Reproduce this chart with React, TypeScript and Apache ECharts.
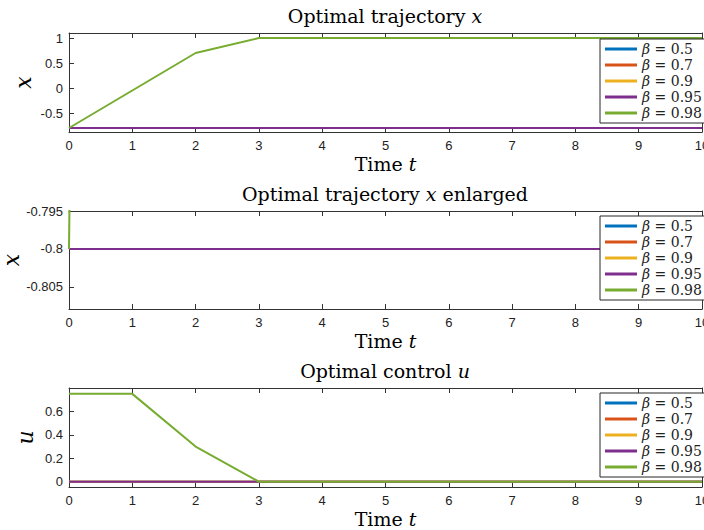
import React, { useEffect, useRef } from "react";
import * as echarts from "echarts";

const tValues = [0, 1, 2, 3, 4, 5, 6, 7, 8, 9, 10];
const betaLabels = ["0.5", "0.7", "0.9", "0.95", "0.98"];
const lineColors = ["#0072BD", "#D95319", "#EDB120", "#7E2F8E", "#77AC30"];

// state trajectory x for each beta
const xBeta05 = [-0.8, -0.8, -0.8, -0.8, -0.8, -0.8, -0.8, -0.8, -0.8, -0.8, -0.8];
const xBeta07 = [-0.8, -0.8, -0.8, -0.8, -0.8, -0.8, -0.8, -0.8, -0.8, -0.8, -0.8];
const xBeta09 = [-0.8, -0.8, -0.8, -0.8, -0.8, -0.8, -0.8, -0.8, -0.8, -0.8, -0.8];
const xBeta095 = [-0.8, -0.8, -0.8, -0.8, -0.8, -0.8, -0.8, -0.8, -0.8, -0.8, -0.8];
const xBeta098 = [-0.8, -0.05, 0.7, 1, 1, 1, 1, 1, 1, 1, 1];

// control u for each beta
const uBeta05 = [0, 0, 0, 0, 0, 0, 0, 0, 0, 0, 0];
const uBeta07 = [0, 0, 0, 0, 0, 0, 0, 0, 0, 0, 0];
const uBeta09 = [0, 0, 0, 0, 0, 0, 0, 0, 0, 0, 0];
const uBeta095 = [0, 0, 0, 0, 0, 0, 0, 0, 0, 0, 0];
const uBeta098 = [0.75, 0.75, 0.3, 0, 0, 0, 0, 0, 0, 0, 0];

const xSeries = [xBeta05, xBeta07, xBeta09, xBeta095, xBeta098];
const uSeries = [uBeta05, uBeta07, uBeta09, uBeta095, uBeta098];

const yTicks1 = [-0.5, 0, 0.5, 1];
const yTicks2 = [-0.805, -0.8, -0.795];
const yTicks3 = [0, 0.2, 0.4, 0.6];

const panelTitles = ["Optimal trajectory ", "Optimal trajectory ", "Optimal control "];
const panelTitleVars = ["x", "x", "u"];
const panelTitleTails = ["", " enlarged", ""];
const yNames = ["x", "x", "u"];

const SERIF = "DejaVu Serif";
const SANS = "Liberation Sans";
const AXIS_COLOR = "#333333";

export default function App() {
  const ref = useRef<HTMLDivElement>(null);
  useEffect(() => {
    if (!ref.current) return;
    const chart = echarts.init(ref.current, null, { renderer: "svg" });

    const grids = [
      { left: 69, right: 2, top: 33, height: 99, outerBoundsMode: "none", containLabel: false },
      { left: 69, right: 2, top: 211, height: 98, outerBoundsMode: "none", containLabel: false },
      { left: 69, right: 2, top: 388, height: 99, outerBoundsMode: "none", containLabel: false },
    ];
    const yRanges = [
      { min: -0.88, max: 1.1, ticks: yTicks1, gap: 35 },
      { min: -0.8079, max: -0.795, ticks: yTicks2, gap: 47 },
      { min: -0.045, max: 0.8, ticks: yTicks3, gap: 33 },
    ];
    const titleTops = [6, 184, 361];
    const legendTops = [39, 216, 393];

    const xAxes: any[] = [];
    const yAxes: any[] = [];
    const series: any[] = [];
    grids.forEach((g, i) => {
      xAxes.push({
        type: "value",
        gridIndex: i,
        position: "bottom",
        min: 0,
        max: 10,
        interval: 1,
        axisLine: { show: true, onZero: false, lineStyle: { color: AXIS_COLOR, width: 1 } },
        axisTick: { show: true, inside: true, length: 5, lineStyle: { color: AXIS_COLOR } },
        axisLabel: { show: true, color: "#222", fontFamily: SANS, fontSize: 13, margin: 7 },
        splitLine: { show: false },
        name: "{n|Time }{i|t}",
        nameLocation: "middle",
        nameGap: 22,
        nameMoveOverlap: false,
        nameTextStyle: {
          rich: {
            n: { fontFamily: SERIF, fontSize: 19, color: "#000" },
            i: { fontFamily: SERIF, fontStyle: "italic", fontSize: 19, color: "#000" },
          },
        },
      });
      xAxes.push({
        type: "value",
        gridIndex: i,
        position: "top",
        min: 0,
        max: 10,
        interval: 1,
        axisLine: { show: true, onZero: false, lineStyle: { color: AXIS_COLOR, width: 1 } },
        axisTick: { show: true, inside: true, length: 5, lineStyle: { color: AXIS_COLOR } },
        axisLabel: { show: false },
        splitLine: { show: false },
      });
      const r = yRanges[i];
      yAxes.push({
        type: "value",
        gridIndex: i,
        position: "left",
        min: r.min,
        max: r.max,
        axisLine: { show: true, onZero: false, lineStyle: { color: AXIS_COLOR, width: 1 } },
        axisTick: { show: true, inside: true, length: 5, customValues: r.ticks, lineStyle: { color: AXIS_COLOR } },
        axisLabel: { show: true, customValues: r.ticks, color: "#222", fontFamily: SANS, fontSize: 13, margin: 6 },
        splitLine: { show: false },
        name: yNames[i],
        nameLocation: "middle",
        nameRotate: 90,
        nameGap: r.gap,
        nameMoveOverlap: false,
        nameTextStyle: { fontFamily: SERIF, fontStyle: "italic", fontSize: 22, color: "#000" },
      });
      yAxes.push({
        type: "value",
        gridIndex: i,
        position: "right",
        min: r.min,
        max: r.max,
        axisLine: { show: true, onZero: false, lineStyle: { color: AXIS_COLOR, width: 1 } },
        axisTick: { show: true, inside: true, length: 5, customValues: r.ticks, lineStyle: { color: AXIS_COLOR } },
        axisLabel: { show: false },
        splitLine: { show: false },
      });
      const src = i < 2 ? xSeries : uSeries;
      src.forEach((vals, k) => {
        series.push({
          type: "line",
          name: betaLabels[k],
          xAxisIndex: 2 * i,
          yAxisIndex: 2 * i,
          data: tValues.map((t, j) => [t, vals[j]]),
          showSymbol: false,
          symbol: "none",
          clip: true,
          lineStyle: { color: lineColors[k], width: 2 },
          itemStyle: { color: lineColors[k] },
          z: 2 + k * 0.01,
        });
      });
    });

    const titles = grids.map((g, i) => ({
      text: `{n|${panelTitles[i]}}{i|${panelTitleVars[i]}}{n|${panelTitleTails[i]}}`,
      left: 385,
      textAlign: "center",
      top: titleTops[i],
      padding: 0,
      textStyle: {
        fontWeight: "normal",
        rich: {
          n: { fontFamily: SERIF, fontSize: 19, fontWeight: "normal", color: "#000" },
          i: { fontFamily: SERIF, fontStyle: "italic", fontWeight: "normal", fontSize: 19, color: "#000" },
        },
      },
    }));

    const legends = legendTops.map((top) => ({
      show: true,
      orient: "vertical",
      left: 600,
      top,
      z: 20,
      data: betaLabels,
      icon: "rect",
      itemWidth: 32,
      itemHeight: 3,
      itemGap: 2,
      padding: [3, 4, 3, 5],
      backgroundColor: "#fff",
      borderColor: "#262626",
      borderWidth: 1,
      selectedMode: false,
      formatter: (name: string) => `{g|β}{t| = ${name}}`,
      textStyle: {
        rich: {
          g: { fontFamily: SERIF, fontStyle: "italic", fontSize: 14, color: "#222" },
          t: { fontFamily: SERIF, fontSize: 14, color: "#222" },
        },
      },
    }));

    chart.setOption({
      animation: false,
      backgroundColor: "#fff",
      title: titles,
      legend: legends,
      grid: grids,
      xAxis: xAxes,
      yAxis: yAxes,
      series,
    });
    return () => chart.dispose();
  }, []);
  return (
    <div
      ref={ref}
      style={{ position: "fixed", left: 0, top: 0, width: 704, height: 530, background: "#fff" }}
    />
  );
}
